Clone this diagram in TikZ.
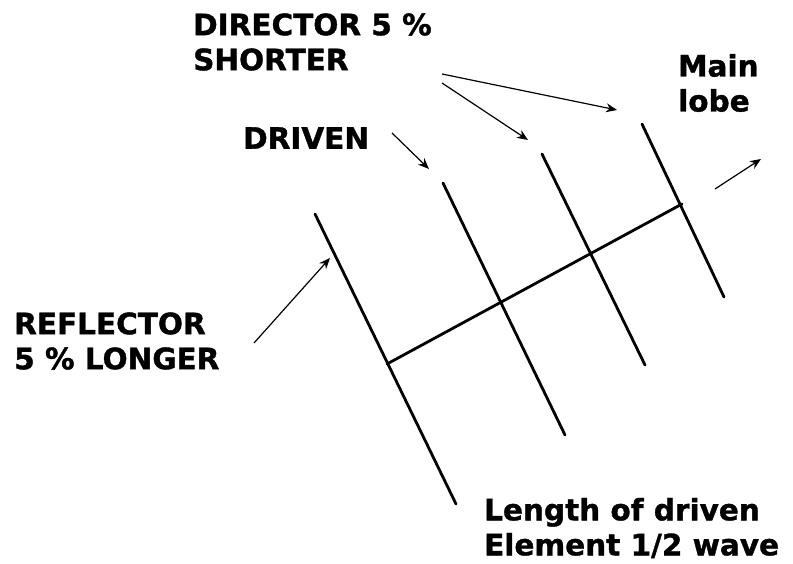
\documentclass[tikz,border=0pt]{standalone}
\usepackage{fontspec}
\setmainfont[BoldFeatures={FakeBold=1.2}]{DejaVu Sans}
\usetikzlibrary{arrows.meta, positioning}
\tikzset{
   label/.style={font=\bfseries\fontsize{29.5}{35}\selectfont, align=left, anchor=west, inner sep=0pt},
   element/.style={line width=2.8pt, line cap=round},
   pointer/.style={-{Stealth[length=11pt,width=9pt]}, line width=1.2pt}
}
\begin{document}
\begin{tikzpicture}[x=1pt,y=-1pt]
   \useasboundingbox (0,0) rectangle (793,564);
   % text
   \node[label] (director) at (193,42) {DIRECTOR 5 \%\\SHORTER};
   \node[label] (mainlobe) at (678,83) {Main\\lobe};
   \node[label] (driven) at (243,138) {DRIVEN};
   \node[label] (reflector) at (14,341) {REFLECTOR\\5 \% LONGER};
   \node[label] (length) at (484,528) {Length of driven\\Element 1/2 wave};
   % elements
   \coordinate (refA) at (315,214);
   \coordinate (refB) at (456,504);
   \coordinate (driA) at (443,183);
   \coordinate (driB) at (565,435);
   \coordinate (dirAa) at (542,154);
   \coordinate (dirAb) at (645,365);
   \coordinate (dirBa) at (642,124);
   \coordinate (dirBb) at (724,297);
   \coordinate (boomA) at (387,364);
   \coordinate (boomB) at (682,204);
   \draw[element] (refA) -- (refB);
   \draw[element] (driA) -- (driB);
   \draw[element] (dirAa) -- (dirAb);
   \draw[element] (dirBa) -- (dirBb);
   \draw[element] (boomA) -- (boomB);
   % pointers
   \coordinate (refS) at (254,343);
   \coordinate (refE) at (330,258);
   \coordinate (driS) at (392,133);
   \coordinate (driE) at (429,169);
   \coordinate (dirS) at (442,83);
   \coordinate (dirE) at (528,140);
   \coordinate (dirT) at (442,74);
   \coordinate (dirF) at (617,110);
   \coordinate (lobeS) at (715,189);
   \coordinate (lobeE) at (761,159);
   \draw[pointer] (refS) -- (refE);
   \draw[pointer] (driS) -- (driE);
   \draw[pointer] (dirS) -- (dirE);
   \draw[pointer] (dirT) -- (dirF);
   \draw[pointer] (lobeS) -- (lobeE);
\end{tikzpicture}
\end{document}
